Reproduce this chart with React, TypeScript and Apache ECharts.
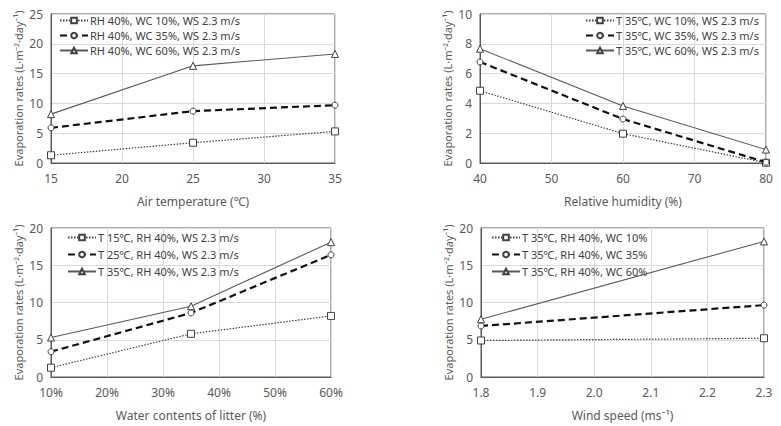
import React, { useEffect, useRef } from "react";
import * as echarts from "echarts";

// Panel (a): air temperature
const tempX = [15, 25, 35];
const tempNames = ["RH 40%, WC 10%, WS 2.3 m/s", "RH 40%, WC 35%, WS 2.3 m/s", "RH 40%, WC 60%, WS 2.3 m/s"];
const tempWC10 = [1.3, 3.4, 5.3];
const tempWC35 = [5.9, 8.7, 9.7];
const tempWC60 = [8.2, 16.3, 18.3];

// Panel (b): relative humidity
const rhX = [40, 60, 80];
const rhNames = ["T 35\u2103, WC 10%, WS 2.3 m/s", "T 35\u2103, WC 35%, WS 2.3 m/s", "T 35\u2103, WC 60%, WS 2.3 m/s"];
const rhWC10 = [4.85, 1.97, 0.02];
const rhWC35 = [6.78, 2.95, 0.05];
const rhWC60 = [7.67, 3.83, 0.9];

// Panel (c): water contents of litter
const wcX = [10, 35, 60];
const wcNames = ["T 15\u2103, RH 40%, WS 2.3 m/s", "T 25\u2103, RH 40%, WS 2.3 m/s", "T 35\u2103, RH 40%, WS 2.3 m/s"];
const wcT15 = [1.25, 5.8, 8.2];
const wcT25 = [3.4, 8.6, 16.4];
const wcT35 = [5.3, 9.5, 18.1];

// Panel (d): wind speed
const wsX = [1.8, 2.3];
const wsNames = ["T 35\u2103, RH 40%, WC 10%", "T 35\u2103, RH 40%, WC 35%", "T 35\u2103, RH 40%, WC 60%"];
const wsWC10 = [4.9, 5.2];
const wsWC35 = [6.85, 9.65];
const wsWC60 = [7.75, 18.2];

const yTitle = "Evaporation rates (L\u00b7m\u207b\u00b2\u00b7day\u207b\u00b9)";
const FONT = "Noto Sans";
const TXT = "#595959";

const lineStyles = [
  { type: [1.5, 1.5], width: 1.2, color: "#404040", symbol: "rect" },
  { type: [7, 4], width: 2.2, color: "#111111", symbol: "circle" },
  { type: "solid", width: 1.1, color: "#595959", symbol: "triangle" },
];

const grids = [
  { left: 51, top: 14, width: 284, height: 149 },
  { left: 480, top: 14, width: 286, height: 149 },
  { left: 51, top: 228, width: 280, height: 149 },
  { left: 481, top: 228, width: 283, height: 149 },
];

function makeSeries(names: string[], xs: number[], ys: number[][], idx: number) {
  return ys.map((vals, k) => {
    const st = lineStyles[k];
    return {
      name: names[k],
      type: "line",
      xAxisIndex: idx,
      yAxisIndex: idx,
      data: xs.map((x, i) => [x, vals[i]]),
      symbol: st.symbol,
      symbolSize: k === 1 ? 6 : 7,
      showSymbol: true,
      z: 3 + k,
      lineStyle: { type: st.type, width: st.width, color: st.color },
      itemStyle: { color: "#ffffff", borderColor: "#404040", borderWidth: 1 },
    };
  });
}

function xAxis(idx: number, name: string, min: number, max: number, interval: number, fmt: (v: number) => string) {
  return {
    type: "value",
    gridIndex: idx,
    min,
    max,
    interval,
    name,
    nameLocation: "middle",
    nameGap: 32,
    nameTextStyle: { color: TXT, fontFamily: FONT, fontSize: 12 },
    axisLine: { show: true, lineStyle: { color: "#595959" } },
    axisTick: { show: false },
    axisLabel: { color: TXT, fontFamily: FONT, fontSize: 12, margin: 9, formatter: fmt },
    splitLine: { show: true, lineStyle: { color: "#d9d9d9" } },
  };
}

function yAxis(idx: number, max: number, interval: number) {
  return {
    type: "value",
    gridIndex: idx,
    min: 0,
    max,
    interval,
    name: yTitle,
    nameLocation: "middle",
    nameGap: 27,
    nameTextStyle: { color: TXT, fontFamily: FONT, fontSize: 11 },
    axisLine: { show: true, lineStyle: { color: "#595959" } },
    axisTick: { show: false },
    axisLabel: { color: TXT, fontFamily: FONT, fontSize: 12, margin: 8 },
    splitLine: { show: true, lineStyle: { color: "#d9d9d9" } },
  };
}

function legend(names: string[], left: number, top: number, gap: number) {
  return {
    data: names,
    orient: "vertical",
    left,
    top,
    itemWidth: 28,
    itemHeight: 7,
    itemGap: gap,
    padding: 0,
    textStyle: { color: "#404040", fontFamily: FONT, fontSize: 11, padding: [0, 0, 0, -3] },
  };
}

export default function App() {
  const ref = useRef<HTMLDivElement>(null);
  useEffect(() => {
    if (!ref.current) return;
    const chart = echarts.init(ref.current, undefined, { renderer: "svg" });
    chart.setOption({
      animation: false,
      backgroundColor: "#ffffff",
      grid: grids.map((g) => ({ ...g, show: true, borderColor: "#595959", borderWidth: 1, backgroundColor: "transparent" })),
      xAxis: [
        xAxis(0, "Air temperature (\u2103)", 15, 35, 5, (v) => String(v)),
        xAxis(1, "Relative humidity (%)", 40, 80, 10, (v) => String(v)),
        xAxis(2, "Water contents of litter (%)", 10, 60, 10, (v) => `${Math.round(v)}%`),
        xAxis(3, "Wind speed (ms\u207b\u00b9)", 1.8, 2.3, 0.1, (v) => v.toFixed(1)),
      ],
      yAxis: [yAxis(0, 25, 5), yAxis(1, 10, 2), yAxis(2, 20, 5), yAxis(3, 20, 5)],
      legend: [
        legend(tempNames, 59, 15, 4),
        legend(rhNames, 585, 15, 4),
        legend(wcNames, 67, 232, 6),
        legend(wsNames, 491, 232, 6),
      ],
      series: [
        ...makeSeries(tempNames, tempX, [tempWC10, tempWC35, tempWC60], 0),
        ...makeSeries(rhNames, rhX, [rhWC10, rhWC35, rhWC60], 1),
        ...makeSeries(wcNames, wcX, [wcT15, wcT25, wcT35], 2),
        ...makeSeries(wsNames, wsX, [wsWC10, wsWC35, wsWC60], 3),
      ],
    });
    return () => chart.dispose();
  }, []);
  return <div ref={ref} style={{ position: "absolute", left: 0, top: 0, width: 781, height: 426 }} />;
}
